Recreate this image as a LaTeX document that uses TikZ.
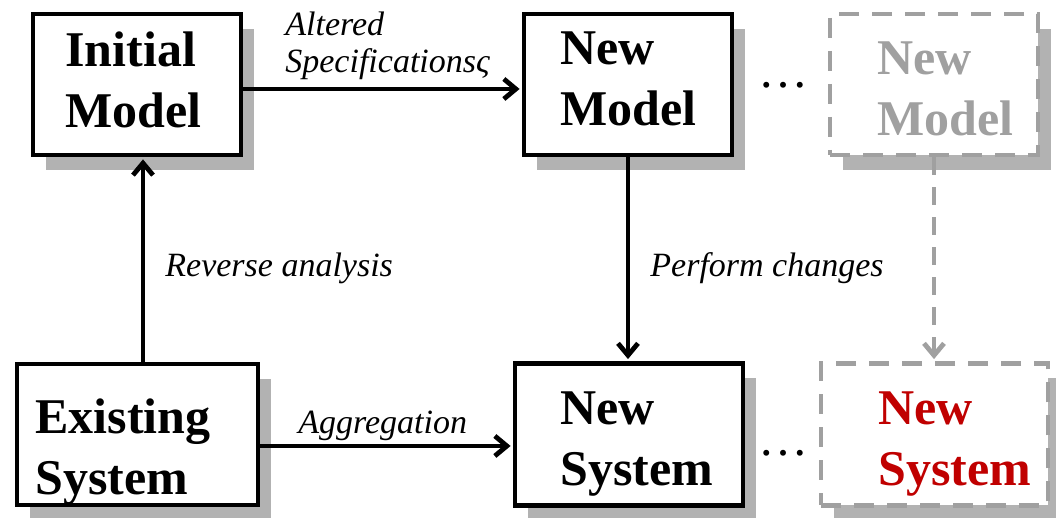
\documentclass[tikz,border=0pt]{standalone}
\usepackage{fontspec}
\setmainfont{Liberation Serif}
\usetikzlibrary{arrows.meta,shadows}
\definecolor{shadowgray}{RGB}{178,178,178}
\definecolor{ghostgray}{RGB}{160,160,160}
\definecolor{alertred}{RGB}{192,0,0}
\tikzset{
  stage/.style 2 args={line width=2.4pt, fill=white, inner sep=0pt,
    minimum width=#1, minimum height=#2,
    drop shadow={shadow xshift=6.5pt, shadow yshift=-7.5pt, fill=shadowgray, opacity=1}},
  solidstage/.style={draw=black},
  futurestage/.style={draw=ghostgray, dash pattern=on 10pt off 6.5pt},
  stagetext/.style={anchor=north west, inner sep=0pt, align=left,
    font=\fontsize{25}{30.5}\selectfont\bfseries},
  flow/.style={line width=2.4pt, shorten >=1pt, -{Straight Barb[length=6pt,width=10pt]}},
  flowlabel/.style={anchor=base west, inner sep=0pt,
    font=\fontsize{17}{18.5}\selectfont\itshape},
  ellipsis/.style={inner sep=0pt, font=\fontsize{25}{30}\selectfont}
}
\begin{document}
\begin{tikzpicture}[x=0.5pt, y=0.5pt]
  \useasboundingbox (0,0) rectangle (1056,518);

  % boxes
  \node[stage={104pt}{70.5pt}, solidstage] (im) at (137,433.5) {};
  \node[stage={104pt}{70.5pt}, solidstage] (nm) at (628,433.5) {};
  \node[stage={104pt}{70.5pt}, futurestage] (nm2) at (934,433.5) {};
  \node[stage={120.5pt}{70.5pt}, solidstage] (es) at (137.5,83.5) {};
  \node[stage={114pt}{71pt}, solidstage] (ns) at (629,83.5) {};
  \node[stage={113.5pt}{71pt}, futurestage] (ns2) at (934.5,83.5) {};

  % box captions
  \node[stagetext] (imtext) at (65,487) {Initial\\Model};
  \node[stagetext] (nmtext) at (560,487) {New\\Model};
  \node[stagetext, text=ghostgray] (nm2text) at (877,477) {New\\Model};
  \node[stagetext] (estext) at (35,120) {Existing\\System};
  \node[stagetext] (nstext) at (560,127) {New\\System};
  \node[stagetext, text=alertred] (ns2text) at (878,127) {New\\System};

  % connectors
  \draw[flow] ([yshift=-2.25pt]im.east) -- ([yshift=-2.25pt]im.east -| nm.west);
  \draw[flow] ([xshift=2.75pt]es.north) -- ([xshift=2.75pt]es.north |- im.south);
  \draw[flow] (nm.south) -- (nm.south |- ns.north);
  \draw[flow] ([yshift=-5.75pt]es.east) -- ([yshift=-5.75pt]es.east -| ns.west);
  \draw[flow, ghostgray, dash pattern=on 9pt off 6pt] (nm2.south) -- (nm2.south |- ns2.north);

  % connector labels
  \node[flowlabel, anchor=north west, align=left] (altlbl) at (285,506) {Altered\\Specificationsς};
  \node[flowlabel] (revlbl) at (165,241) {Reverse analysis};
  \node[flowlabel] (perflbl) at (650,241) {Perform changes};
  \node[flowlabel] (agglbl) at (298,84) {Aggregation};

  % continuation marks
  \node[ellipsis] (dotsup) at (783,433) {…};
  \node[ellipsis] (dotsdown) at (783,65) {…};
\end{tikzpicture}
\end{document}
